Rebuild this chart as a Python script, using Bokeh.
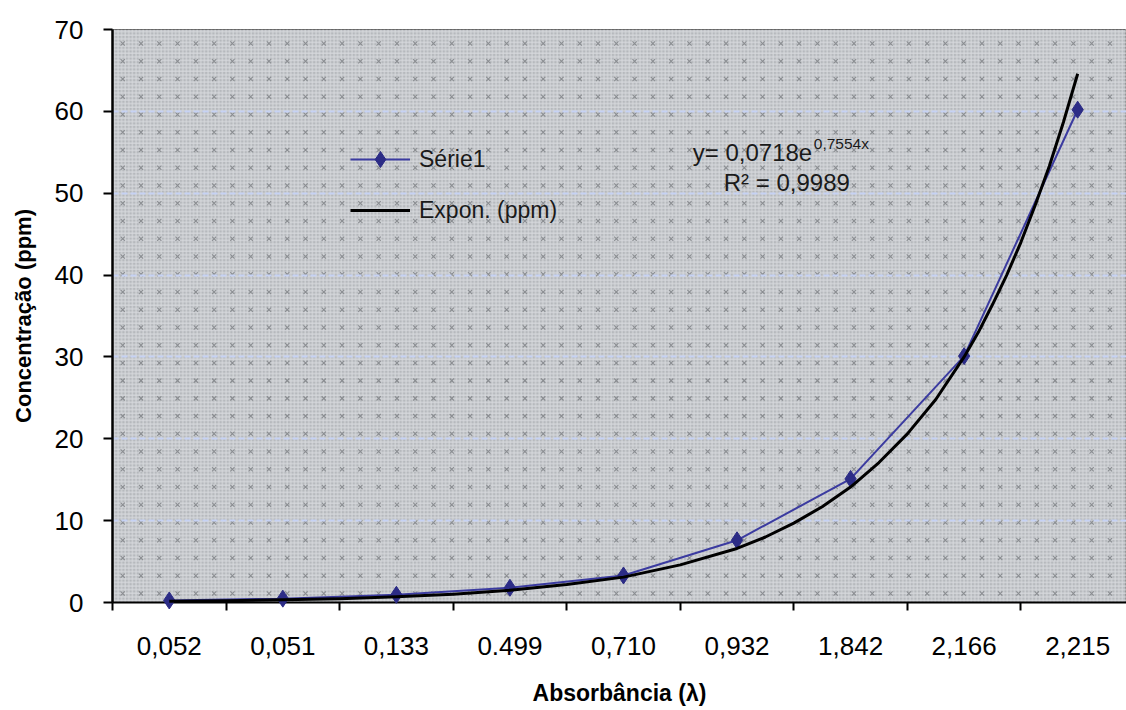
import numpy as np
from bokeh.plotting import figure
from bokeh.models import (FixedTicker, Legend, LegendItem, Label, BoxAnnotation, ColumnDataSource)
from bokeh.embed import file_html
from bokeh.resources import INLINE

# ---- data ----
categories = ["0,052", "0,051", "0,133", "0.499", "0,710", "0,932", "1,842", "2,166", "2,215"]
cat_pos = [1, 2, 3, 4, 5, 6, 7, 8, 9]
serie1 = [0.25, 0.47, 0.94, 1.8, 3.3, 7.6, 15.1, 30.1, 60.2]

# exponential trendline
trend_x = [1, 1.5, 2, 2.5, 3, 3.5, 4, 4.5, 5, 5.5, 6, 6.25, 6.5, 6.75, 7, 7.25, 7.5, 7.75,
           8, 8.125, 8.25, 8.375, 8.5, 8.625, 8.75, 8.875, 9]
trend_y = [0.15, 0.22, 0.33, 0.47, 0.69, 1.0, 1.5, 2.2, 3.1, 4.6, 6.6, 8.0, 9.7, 11.7, 14.1, 17.1, 20.6, 24.8,
           30.0, 33.0, 36.4, 40.0, 44.0, 48.5, 53.3, 58.7, 64.6]

y_ticks = [0, 10, 20, 30, 40, 50, 60, 70]
cat_edges = [0.5, 1.5, 2.5, 3.5, 4.5, 5.5, 6.5, 7.5, 8.5, 9.5]

FONT = "Liberation Sans"

p = figure(width=1126, height=708, output_backend="svg", toolbar_location=None,
           x_range=(0.5, 9.43), y_range=(0, 70),
           min_border_left=112, min_border_right=0, min_border_top=29, min_border_bottom=104)

p.background_fill_color = "#b6b9bd"
p.border_fill_color = "white"
p.outline_line_color = "#666666"
p.outline_line_width = 1

# fine texture
p.add_layout(BoxAnnotation(fill_alpha=0, line_alpha=0, hatch_pattern="+", hatch_color="#dcdee1",
                           hatch_scale=3.6, hatch_weight=1, hatch_alpha=0.9, level="image"))

# small x marks of the background pattern
gx, gy = np.meshgrid(np.arange(0.5 + 0.09, 9.43, 0.161), np.arange(1.1, 70, 2.167))
p.scatter(gx.ravel(), gy.ravel(), marker="x", size=6, line_color="#8a8d91", line_width=1.1, level="underlay")

# grid
p.xgrid.grid_line_color = None
p.ygrid.level = "glyph"
p.ygrid.grid_line_color = "#c6d2f4"
p.ygrid.grid_line_width = 2
p.ygrid.grid_line_dash = "6 3"
p.ygrid.ticker = FixedTicker(ticks=y_ticks[1:])

# axes
p.yaxis.ticker = FixedTicker(ticks=y_ticks)
p.yaxis.minor_tick_line_color = None
p.yaxis.major_tick_out = 9
p.yaxis.major_tick_in = 0
p.yaxis.axis_line_width = 2.5
p.yaxis.major_tick_line_width = 2
p.yaxis.major_label_text_font = FONT
p.yaxis.major_label_text_font_size = "26px"
p.yaxis.major_label_text_color = "black"
p.yaxis.major_label_standoff = 20
p.yaxis.axis_label = "Concentração (ppm)"
p.yaxis.axis_label_text_font = FONT
p.yaxis.axis_label_text_font_style = "bold"
p.yaxis.axis_label_text_font_size = "22px"
p.yaxis.axis_label_text_color = "black"
p.yaxis.axis_label_standoff = 16

p.xaxis.ticker = FixedTicker(ticks=cat_pos, minor_ticks=cat_edges)
p.xaxis.major_label_overrides = {i: c for i, c in zip(cat_pos, categories)}
p.xaxis.major_tick_out = 0
p.xaxis.major_tick_in = 0
p.xaxis.minor_tick_out = 8
p.xaxis.minor_tick_in = 0
p.xaxis.minor_tick_line_width = 2
p.xaxis.axis_line_width = 2
p.xaxis.major_label_text_font = FONT
p.xaxis.major_label_text_font_size = "26px"
p.xaxis.major_label_text_color = "black"
p.xaxis.major_label_standoff = 26
p.xaxis.axis_label = "Absorbância (λ)"
p.xaxis.axis_label_text_font = FONT
p.xaxis.axis_label_text_font_style = "bold"
p.xaxis.axis_label_text_font_size = "23px"
p.xaxis.axis_label_text_color = "black"
p.xaxis.axis_label_standoff = 22

# series
src = ColumnDataSource(dict(x=cat_pos, y=serie1))
l1 = p.line("x", "y", source=src, line_color="#3b3ba0", line_width=2, level="overlay")
m1 = p.scatter("x", "y", source=src, marker="diamond", size=17, fill_color="#2c2c86",
               line_color="#2c2c86", level="overlay")
l2 = p.line(trend_x, trend_y, line_color="black", line_width=3, line_join="round", level="overlay")

legend = Legend(items=[LegendItem(label="Série1", renderers=[l1, m1]),
                       LegendItem(label="Expon. (ppm)", renderers=[l2])],
                location=(238, 372), orientation="vertical",
                background_fill_alpha=0, border_line_color=None,
                label_text_font=FONT, label_text_font_size="23px", label_text_color="#1a1a1a",
                glyph_width=60, glyph_height=40, label_height=40,
                label_standoff=9, spacing=11, padding=0, margin=0)
p.add_layout(legend)

# trendline equation
p.add_layout(Label(x=5.61, y=55.0, text="y= 0,0718e", text_font=FONT, text_font_size="24px",
                   text_baseline="alphabetic", text_color="#1a1a1a"))
p.add_layout(Label(x=6.676, y=56.1, text="0,7554x", text_font=FONT, text_font_size="15.5px",
                   text_baseline="alphabetic", text_color="#1a1a1a"))
p.add_layout(Label(x=5.883, y=51.25, text="R² = 0,9989", text_font=FONT, text_font_size="24px",
                   text_baseline="alphabetic", text_color="#1a1a1a"))

open("out.html", "w").write(file_html(p, INLINE))
